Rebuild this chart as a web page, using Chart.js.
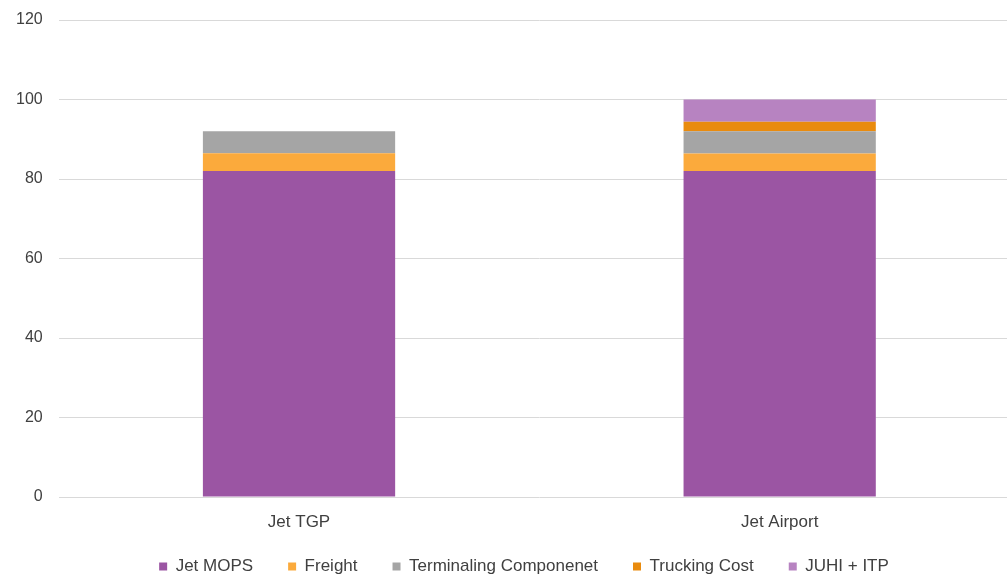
<!DOCTYPE html>
<html>
<head>
<meta charset="utf-8">
<script src="https://cdn.jsdelivr.net/npm/chart.js@4"></script>
<style>
  html, body { margin: 0; padding: 0; background: #fff; overflow: hidden; }
  #wrap { width: 1050px; height: 578px; }
</style>
</head>
<body>
<div id="wrap"><canvas id="myChart"></canvas></div>
<script>
const categories = ["Jet TGP", "Jet Airport"];
const jetMops = [82, 82];
const freight = [4.5, 4.4];
const terminaling = [5.5, 5.6];
const trucking = [0, 2.4];
const juhiItp = [0, 5.6];
const yTicks = [0, 20, 40, 60, 80, 100, 120];

const textColor = "#404040";
const fontFamily = "'Liberation Sans', Arial, sans-serif";
const legendHeight = 55;
const legendShift = 14;
const xAxisHeight = 26;

// one dataset per stack piece
function makeSet(label, data, color) {
    return {
        label: label,
        data: data,
        backgroundColor: color,
        borderWidth: 0,
        barPercentage: 0.4,
        categoryPercentage: 1.0
    };
}

// keep the wide legend spacing but a shorter legend box, nudged right
const legendFitPlugin = {
    id: 'legendFit',
    beforeInit(chart) {
        const legend = chart.legend;
        const fit = legend.fit;
        const draw = legend.draw;
        legend.fit = function () {
            fit.call(this);
            this.height = legendHeight;
        };
        legend.draw = function () {
            this.ctx.save();
            this.ctx.translate(legendShift, 0);
            draw.call(this);
            this.ctx.restore();
        };
    }
};

const ctx = document.getElementById('myChart').getContext('2d');

new Chart(ctx, {
    type: 'bar',
    data: {
        labels: categories,
        datasets: [
            makeSet("Jet MOPS", jetMops, "#9B55A3"),
            makeSet("Freight", freight, "#FBAA3C"),
            makeSet("Terminaling Componenet", terminaling, "#A5A5A5"),
            makeSet("Trucking Cost", trucking, "#E98B0E"),
            makeSet("JUHI + ITP", juhiItp, "#B783C1")
        ]
    },
    plugins: [legendFitPlugin],
    options: {
        responsive: true,
        maintainAspectRatio: false,
        animation: false,
        layout: {
            padding: { top: 0, left: 0, right: 30, bottom: 0 }
        },
        plugins: {
            legend: {
                position: 'bottom',
                labels: {
                    boxWidth: 8,
                    boxHeight: 8,
                    padding: 35,
                    color: textColor,
                    font: { size: 17, family: fontFamily }
                }
            },
            tooltip: { enabled: false }
        },
        scales: {
            x: {
                stacked: true,
                grid: { display: false },
                border: { display: false },
                afterFit: (scale) => {
                    scale.height = xAxisHeight;
                    // labels hang below the short axis box, so don't clip them
                    scale._computeLabelArea = () => undefined;
                },
                ticks: {
                    color: textColor,
                    padding: 7,
                    font: { size: 17, family: fontFamily }
                }
            },
            y: {
                stacked: true,
                min: 0,
                max: 120,
                afterBuildTicks: (axis) => {
                    axis.ticks = yTicks.map(v => ({ value: v }));
                },
                afterFit: (scale) => { scale.paddingTop = 20; },
                grid: {
                    color: "#D9D9D9",
                    lineWidth: 1,
                    drawTicks: false
                },
                border: { display: false },
                ticks: {
                    color: textColor,
                    padding: 16,
                    font: { size: 16, family: fontFamily }
                }
            }
        }
    }
});
</script>
</body>
</html>
